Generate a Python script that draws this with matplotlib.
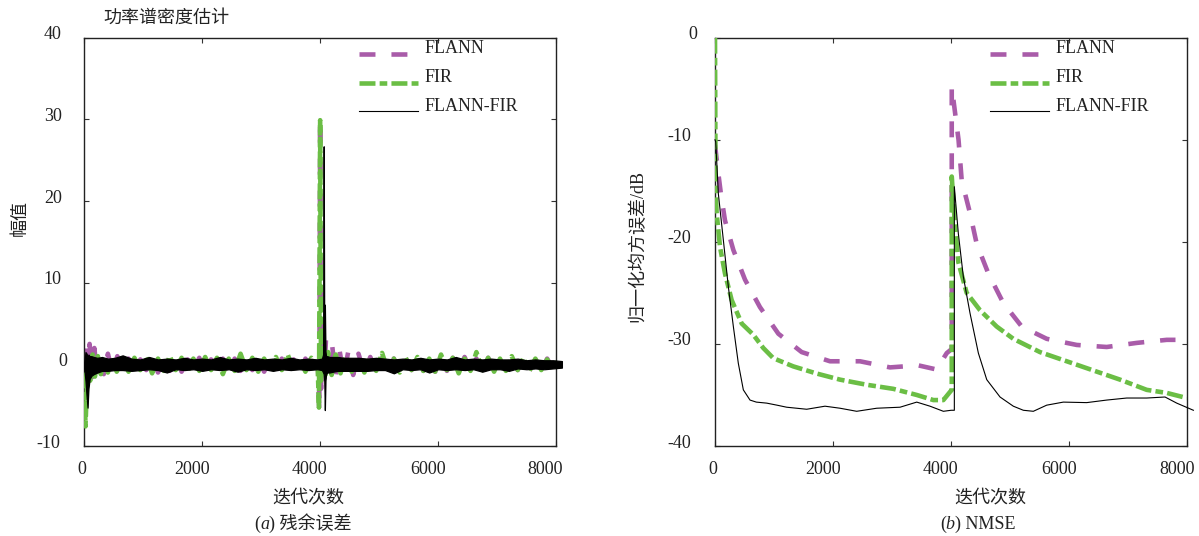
import numpy as np
import matplotlib
matplotlib.use('Agg')
import matplotlib.pyplot as plt
from matplotlib.transforms import ScaledTranslation, blended_transform_factory
from matplotlib.legend_handler import HandlerLine2D
from matplotlib.lines import Line2D

plt.rcParams['font.family'] = ['Liberation Serif', 'Noto Sans CJK SC']
plt.rcParams['axes.unicode_minus'] = False
plt.rcParams['lines.scale_dashes'] = False

# ---------------- data: (a) residual error ----------------
flann_res_start_x = [0, 30, 60, 90, 130, 170, 220, 270, 330, 400, 480, 560]
flann_res_start_y = [0.0, 2.8, -2.0, 2.5, -1.6, 2.0, -1.4, 1.6, -1.2, 1.3, -1.0, 1.0]
flann_res_mid = [-0.8, 0.7, -0.9, 0.6, -0.7, 0.8, -1.0, 0.6, -0.8, 0.7,
                 -0.9, 0.6, -0.7, 0.8, -1.1, 0.6, -0.8, 0.7, -1.0, 0.7,
                 -0.8, 0.6, -0.7, 0.8, -0.9, 0.6, -0.8, 0.7, -0.8, 0.6,
                 -1.1, 0.7, -0.7]
flann_res_spike_x = [3960, 3985, 4000, 4015, 4035, 4065, 4100, 4150, 4200, 4260, 4320, 4400, 4480, 4560, 4650, 4750]
flann_res_spike_y = [0.6, -5.7, 29.9, -3.0, 3.8, -1.8, 3.2, -1.6, 2.6, -1.5, 2.1, -1.4, 1.7, -1.3, 1.3, -1.0]
flann_res_end = [0.9, -0.9, 0.8, -1.0, 0.7, -0.8, 0.8, -0.7, 0.9, -0.8,
                 0.7, -0.9, 0.6, -0.8, 0.8, -0.7, 0.9, -0.8, 0.7, -0.7,
                 0.8, -0.8, 0.6, -0.7, 0.8, -0.7, 0.7, -0.8, 0.6, -0.7,
                 0.7, -0.6, 0.6]

fir_res_start_x = [0, 20, 40, 70, 100, 140, 180, 230, 280, 340, 400, 470, 550]
fir_res_start_y = [-1.0, -7.6, -3.5, 1.0, -2.0, 1.2, -1.5, 1.0, -1.2, 0.9, -1.0, 0.8, -0.9]
fir_res_mid = [0.7, -0.9, 0.8, -0.7, 0.9, -1.1, 0.7, -0.8, 1.0, -0.7,
               0.8, -0.9, 0.7, -0.8, 0.9, -0.7, 0.8, -1.2, 0.7, -0.8,
               1.3, -0.7, 0.8, -0.9, 0.7, -0.8, 0.9, -0.7, 1.2, -0.8,
               0.7, -0.9, 0.8]
fir_res_spike_x = [3960, 3980, 4000, 4015, 4045, 4085, 4135, 4195, 4265, 4345, 4435, 4535]
fir_res_spike_y = [-0.6, -5.3, 29.9, -2.0, 2.0, -1.6, 1.5, -1.3, 1.2, -1.1, 1.0, -0.9]
fir_res_end = [0.8, -1.0, 0.9, -0.8, 1.4, -0.8, 0.7, -1.0, 0.8, -0.7,
               0.9, -0.8, 0.7, -0.9, 1.2, -0.7, 0.8, -1.1, 0.7, -0.8,
               1.5, -0.7, 0.8, -0.9, 0.7, -0.8, 1.0, -0.7, 0.8, -0.8,
               0.7, -0.7, 0.6, -0.6, 0.6]

# FLANN-FIR residual: dense noise band, read as upper / lower envelope
ff_env_x = [0, 20, 40, 55, 70, 90, 120, 160, 220, 300,
            400, 520, 650, 800, 950, 1100, 1250, 1400, 1550, 1700,
            1850, 2000, 2150, 2300, 2450, 2600, 2750, 2900, 3050, 3200,
            3350, 3500, 3650, 3800, 3950, 4030, 4050, 4060, 4070, 4080,
            4090, 4100, 4120, 4160, 4220, 4300, 4400, 4500, 4650, 4800,
            4950, 5100, 5250, 5400, 5550, 5700, 5850, 6000, 6150, 6300,
            6450, 6600, 6750, 6900, 7050, 7200, 7350, 7500, 7650, 7800,
            7950, 8100]
ff_env_upper = [0.3, 1.5, 1.3, 0.8, 1.2, 1.0, 1.0, 0.9, 0.8, 0.9,
                0.7, 0.8, 1.1, 0.7, 0.6, 0.9, 0.6, 0.7, 0.6, 0.8,
                0.6, 0.7, 0.6, 0.9, 0.6, 0.7, 0.6, 0.8, 0.6, 0.7,
                0.6, 0.8, 0.6, 0.7, 0.6, 0.7, 1.2, 26.7, 1.5, 7.3,
                1.6, 1.0, 1.0, 0.9, 0.9, 0.9, 0.8, 0.8, 0.8, 0.7,
                0.8, 0.7, 0.6, 0.7, 0.6, 0.8, 0.6, 0.7, 0.6, 0.9,
                0.6, 0.7, 0.6, 0.7, 0.6, 0.6, 0.7, 0.5, 0.6, 0.5,
                0.5, 0.4]
ff_env_lower = [-0.5, -2.0, -4.0, -5.3, -3.0, -1.8, -1.4, -1.2, -1.0, -0.8,
                -0.8, -0.7, -0.7, -0.8, -0.7, -0.6, -0.7, -1.0, -0.6, -0.7,
                -0.6, -0.8, -0.6, -0.7, -0.6, -0.9, -0.6, -0.7, -0.6, -0.8,
                -0.6, -0.7, -0.6, -0.7, -0.6, -0.7, -1.0, -1.2, -2.0, -5.6,
                -2.0, -1.2, -1.0, -1.0, -0.9, -0.8, -0.8, -0.8, -0.8, -0.8,
                -0.7, -0.7, -1.1, -0.6, -0.7, -0.6, -1.0, -0.6, -0.7, -0.6,
                -0.7, -0.6, -0.9, -0.6, -0.6, -0.8, -0.5, -0.6, -0.5, -0.6,
                -0.5, -0.4]

# ---------------- data: (b) NMSE ----------------
flann_nmse_x = [0, 50, 100, 169, 311, 508, 762, 1073, 1468, 1948, 2456, 2964, 3444, 3750, 3850, 3925,
                4010, 4010, 4125, 4179, 4320, 4433, 4630, 4884, 5196, 5619, 6127, 6635, 7143, 7652, 7800]
flann_nmse_y = [-10.5, -13.0, -15.3, -17.9, -20.8, -23.7, -26.4, -29.0, -30.8, -31.7, -31.7, -32.3, -32.1, -32.5, -31.6, -30.9,
                -30.5, -4.8, -10.0, -14.0, -17.2, -20.2, -23.1, -26.0, -28.3, -29.5, -30.1, -30.3, -29.9, -29.6, -29.6]
fir_nmse_x = [0, 10, 28, 85, 169, 282, 452, 649, 818, 988, 1326, 1722, 2118, 2569, 3020, 3417, 3699, 3868, 3981,
              4010, 4010, 4066, 4122, 4263, 4489, 4772, 5053, 5505, 5958, 6409, 6861, 7313, 7652, 7991]
fir_nmse_y = [0.0, -15.0, -17.2, -20.5, -23.1, -25.7, -28.0, -29.1, -30.4, -31.4, -32.2, -32.9, -33.5, -34.0, -34.4, -35.0, -35.5, -35.5, -34.7,
              -34.5, -13.6, -18.5, -22.0, -25.0, -26.7, -28.3, -29.5, -30.8, -31.7, -32.6, -33.5, -34.5, -34.8, -35.3]
ff_nmse_x = [0, 12, 57, 141, 226, 311, 395, 480, 593, 700, 876, 1050, 1214, 1553, 1863, 2118, 2400, 2739, 3134, 3417, 3642, 3868, 4000,
             4054, 4054, 4122, 4206, 4320, 4461, 4603, 4828, 5053, 5223, 5392, 5618, 5900, 6296, 6635, 6974, 7313, 7623, 7821, 8103]
ff_nmse_y = [-10.0, -10.2, -15.3, -19.8, -24.4, -28.3, -31.9, -34.5, -35.5, -35.7, -35.8, -36.0, -36.2, -36.4, -36.1, -36.3, -36.6, -36.3, -36.2, -35.7, -36.1, -36.6, -36.5,
             -36.5, -14.6, -19.2, -23.4, -27.0, -30.9, -33.5, -35.2, -36.1, -36.5, -36.6, -36.0, -35.7, -35.75, -35.5, -35.3, -35.3, -35.2, -35.8, -36.5]

labels = ['FLANN', 'FIR', 'FLANN-FIR']
x_ticks = [0, 2000, 4000, 6000, 8000]
y_ticks_a = [-10, 0, 10, 20, 30, 40]
y_ticks_b = [-40, -30, -20, -10, 0]

# ---------------- assemble residual series ----------------
flann_res_x = np.concatenate([flann_res_start_x, 650 + 100 * np.arange(len(flann_res_mid)),
                              flann_res_spike_x, 4850 + 100 * np.arange(len(flann_res_end))])
flann_res_y = np.concatenate([flann_res_start_y, flann_res_mid, flann_res_spike_y, flann_res_end])
fir_res_x = np.concatenate([fir_res_start_x, 650 + 100 * np.arange(len(fir_res_mid)),
                            fir_res_spike_x, 4650 + 100 * np.arange(len(fir_res_end))])
fir_res_y = np.concatenate([fir_res_start_y, fir_res_mid, fir_res_spike_y, fir_res_end])

# ---------------- styles ----------------
PURPLE = '#A95CA9'
GREEN = '#6BBE45'
BLACK = '#000000'
LW = 3.3
DASH_FLANN = (11.5, 11.5)
DASH_FIR = (11.5, 3.0, 5.5, 3.0)
FS = 13
TXT = '#222222'

W, H = 1199, 536
fig = plt.figure(figsize=(W / 100, H / 100), dpi=100)
ax1 = fig.add_axes([84.3 / W, 90 / H, 471.7 / W, 408.3 / H])
ax2 = fig.add_axes([715 / W, 90 / H, 472.3 / W, 408.3 / H])


class LoweredLine(HandlerLine2D):
    """Legend line drawn near the text baseline, as in the reference."""
    def create_artists(self, legend, orig_handle, xdescent, ydescent, width, height, fontsize, trans):
        arts = super().create_artists(legend, orig_handle, xdescent, ydescent, width, height, fontsize, trans)
        for a in arts:
            a.set_ydata(np.asarray(a.get_ydata(), dtype=float) - 5.2)
        return arts


def style_axes(ax, yt, ylim):
    ax.set_xlim(0, 8000)
    ax.set_ylim(*ylim)
    ax.set_xticks(x_ticks)
    ax.set_yticks(yt)
    ax.tick_params(direction='in', top=True, right=True, length=3.4, width=0.8,
                   labelbottom=False, labelleft=False, color='#333333')
    for s in ax.spines.values():
        s.set_linewidth(1.0)
        s.set_color(TXT)
    for v in x_ticks:
        lab = str(v)
        dx = -2 if len(lab) == 1 else -10.5
        tr = blended_transform_factory(ax.transData, ax.transAxes) + \
            ScaledTranslation(dx / 100, -23 / 100, fig.dpi_scale_trans)
        ax.text(v, 0, lab, transform=tr, ha='center', va='center', fontsize=FS, color=TXT)
    for v in yt:
        lab = str(v)
        pad = {1: 17.5, 2: 22.5, 3: 24.0}[len(lab)]
        tr = blended_transform_factory(ax.transAxes, ax.transData) + \
            ScaledTranslation(-pad / 100, 3 / 100, fig.dpi_scale_trans)
        ax.text(0, v, lab, transform=tr, ha='right', va='center', fontsize=FS, color=TXT)

# ---- (a)
l1, = ax1.plot(flann_res_x, flann_res_y, color=PURPLE, lw=LW, dashes=DASH_FLANN, zorder=2)
l2, = ax1.plot(fir_res_x, fir_res_y, color=GREEN, lw=LW, dashes=DASH_FIR, zorder=3)
ax1.fill_between(ff_env_x, ff_env_lower, ff_env_upper, facecolor=BLACK, edgecolor=BLACK,
                 lw=0.9, zorder=4, clip_on=False)
l3 = Line2D([], [], color=BLACK, lw=0.8)
style_axes(ax1, y_ticks_a, (-10, 40))

# ---- (b)
m1, = ax2.plot(flann_nmse_x, flann_nmse_y, color=PURPLE, lw=LW, dashes=DASH_FLANN, zorder=2)
m2, = ax2.plot(fir_nmse_x, fir_nmse_y, color=GREEN, lw=LW, dashes=DASH_FIR, zorder=3)
m3, = ax2.plot(ff_nmse_x, ff_nmse_y, color=BLACK, lw=0.8, zorder=4, clip_on=False)
style_axes(ax2, y_ticks_b, (-40, 0))

for ax, hs in ((ax1, (l1, l2, l3)), (ax2, (m1, m2, m3))):
    leg = ax.legend(hs, labels, loc='upper left', bbox_to_anchor=(0.582, 0.9934), frameon=False,
                    fontsize=FS, handlelength=3.27, handletextpad=0.37, labelspacing=0.64,
                    borderpad=0, borderaxespad=0,
                    handler_map={h: LoweredLine() for h in hs})
    for t in leg.get_texts():
        t.set_color(TXT)

# ---- labels
ax1.text(0.0396, 1.048, '功率谱密度估计', transform=ax1.transAxes, ha='left', va='center', fontsize=FS, color=TXT)
ax1.text(-0.135, 0.558, '幅值', transform=ax1.transAxes, rotation=90, ha='center', va='center', fontsize=FS, color=TXT)
ax2.text(-0.164, 0.49, '归一化均方误差/dB', transform=ax2.transAxes, rotation=90, ha='center', va='center', fontsize=FS, color=TXT)
ax1.text(0.474, -0.127, '迭代次数', transform=ax1.transAxes, ha='center', va='center', fontsize=FS, color=TXT)
ax2.text(0.582, -0.127, '迭代次数', transform=ax2.transAxes, ha='center', va='center', fontsize=FS, color=TXT)


def caption(ax, xfrac, letter, rest):
    t1 = ax.text(xfrac, -0.191, '(', transform=ax.transAxes, ha='left', va='center', fontsize=FS, color=TXT)
    t2 = ax.annotate(letter, xy=(1, 0), xycoords=t1, ha='left', va='bottom', fontsize=FS, style='italic', color=TXT)
    ax.annotate(rest, xy=(1, 0), xycoords=t2, ha='left', va='bottom', fontsize=FS, color=TXT)

caption(ax1, 0.36, 'a', ') 残余误差')
caption(ax2, 0.476, 'b', ') NMSE')

fig.savefig('out.png', dpi=100)
